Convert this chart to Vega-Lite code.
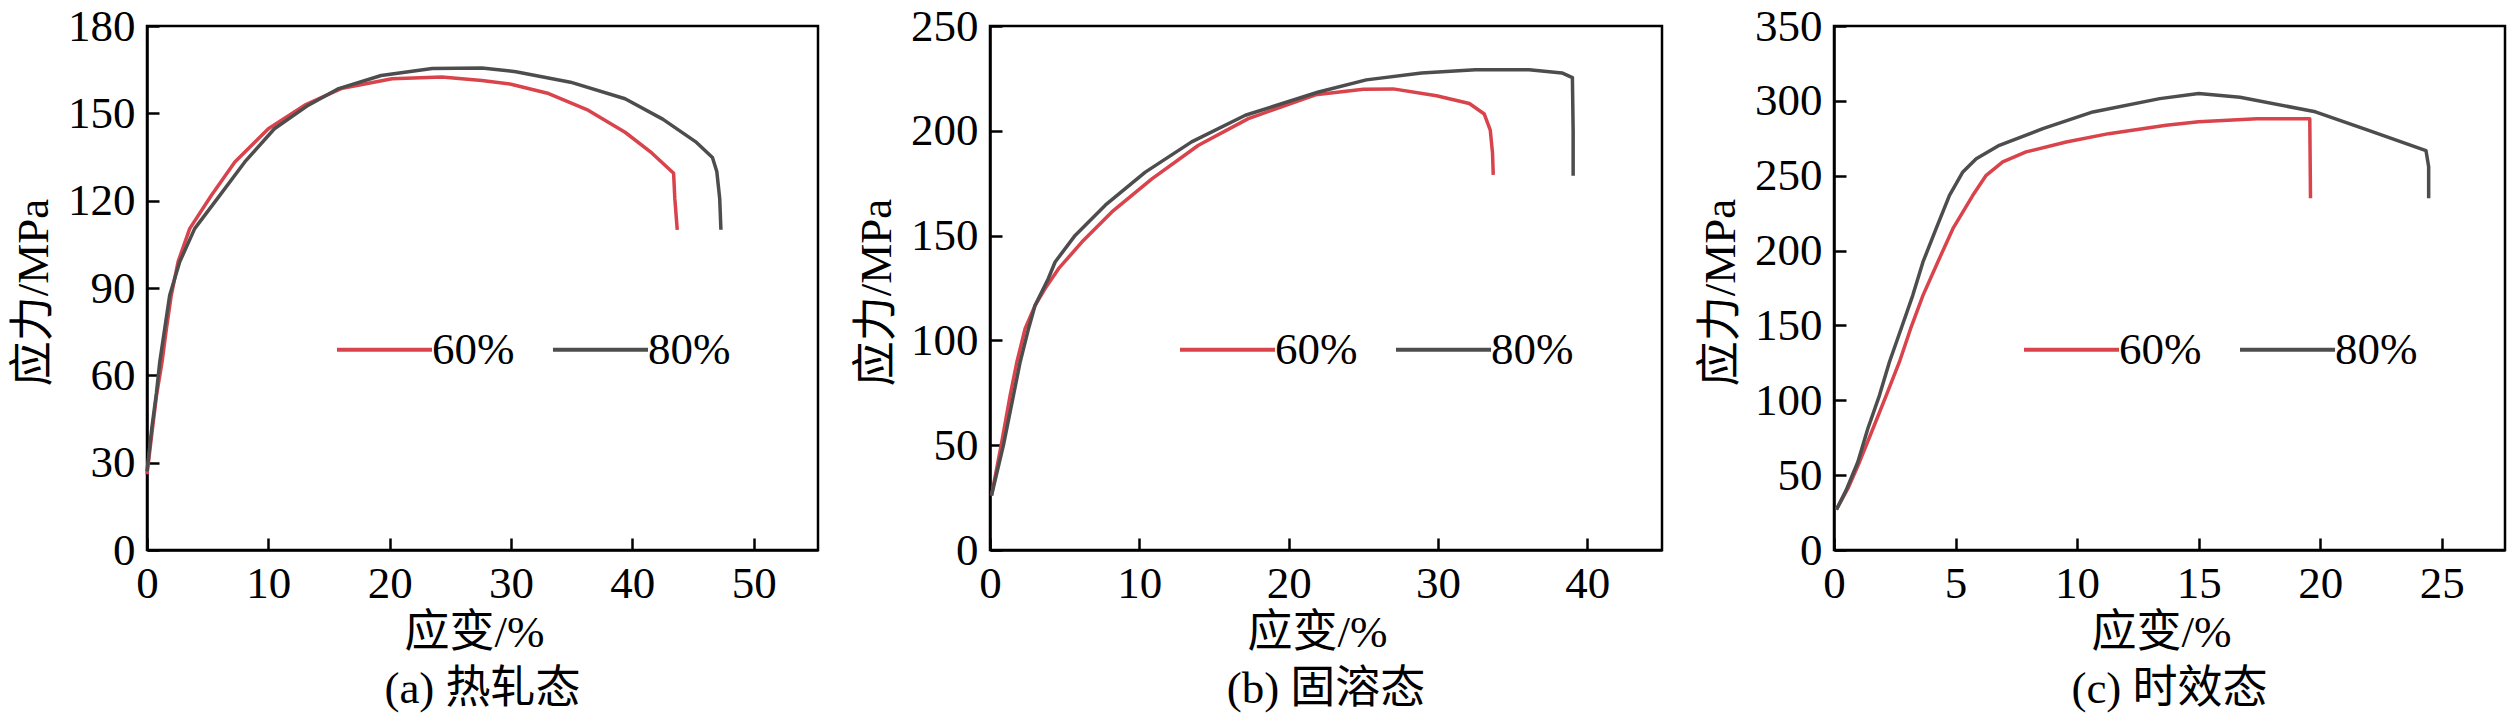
{
  "$schema": "https://vega.github.io/schema/vega-lite/v6.json",
  "padding": {"left": 9, "top": 2, "right": 0, "bottom": 0},
  "background": "white",
  "spacing": 32,
  "datasets": {
    "a": [
      {"s": "60%", "i": 1, "x": 0, "y": 26},
      {"s": "60%", "i": 2, "x": 0.4, "y": 40},
      {"s": "60%", "i": 3, "x": 0.78, "y": 53},
      {"s": "60%", "i": 4, "x": 1.24, "y": 64.6},
      {"s": "60%", "i": 5, "x": 1.6, "y": 76},
      {"s": "60%", "i": 6, "x": 2.0, "y": 87.5},
      {"s": "60%", "i": 7, "x": 2.56, "y": 99},
      {"s": "60%", "i": 8, "x": 3.52, "y": 110.4},
      {"s": "60%", "i": 9, "x": 5.3, "y": 121.8},
      {"s": "60%", "i": 10, "x": 7.24, "y": 133.3},
      {"s": "60%", "i": 11, "x": 10, "y": 144.7},
      {"s": "60%", "i": 12, "x": 13, "y": 152.8},
      {"s": "60%", "i": 13, "x": 16, "y": 158.5},
      {"s": "60%", "i": 14, "x": 20.2, "y": 161.9},
      {"s": "60%", "i": 15, "x": 24.3, "y": 162.5},
      {"s": "60%", "i": 16, "x": 27.6, "y": 161.3},
      {"s": "60%", "i": 17, "x": 30, "y": 160},
      {"s": "60%", "i": 18, "x": 33.1, "y": 156.8},
      {"s": "60%", "i": 19, "x": 36.25, "y": 151.3},
      {"s": "60%", "i": 20, "x": 39.4, "y": 143.5},
      {"s": "60%", "i": 21, "x": 41.6, "y": 136.4},
      {"s": "60%", "i": 22, "x": 43.4, "y": 129.4},
      {"s": "60%", "i": 23, "x": 43.5, "y": 120.7},
      {"s": "60%", "i": 24, "x": 43.7, "y": 110},
      {"s": "80%", "i": 1, "x": 0, "y": 27},
      {"s": "80%", "i": 2, "x": 0.4, "y": 42},
      {"s": "80%", "i": 3, "x": 0.78, "y": 54},
      {"s": "80%", "i": 4, "x": 1.05, "y": 64.6},
      {"s": "80%", "i": 5, "x": 1.87, "y": 87.5},
      {"s": "80%", "i": 6, "x": 2.7, "y": 99},
      {"s": "80%", "i": 7, "x": 3.93, "y": 110.4},
      {"s": "80%", "i": 8, "x": 6.0, "y": 121.8},
      {"s": "80%", "i": 9, "x": 8.06, "y": 133.3},
      {"s": "80%", "i": 10, "x": 10.5, "y": 144.7},
      {"s": "80%", "i": 11, "x": 13.3, "y": 152.8},
      {"s": "80%", "i": 12, "x": 15.8, "y": 158.5},
      {"s": "80%", "i": 13, "x": 19.3, "y": 163},
      {"s": "80%", "i": 14, "x": 23.5, "y": 165.4},
      {"s": "80%", "i": 15, "x": 27.6, "y": 165.6},
      {"s": "80%", "i": 16, "x": 30.4, "y": 164.3},
      {"s": "80%", "i": 17, "x": 34.9, "y": 160.7},
      {"s": "80%", "i": 18, "x": 39.4, "y": 155},
      {"s": "80%", "i": 19, "x": 42.5, "y": 148},
      {"s": "80%", "i": 20, "x": 45.2, "y": 140.3},
      {"s": "80%", "i": 21, "x": 46.6, "y": 134.8},
      {"s": "80%", "i": 22, "x": 46.96, "y": 130},
      {"s": "80%", "i": 23, "x": 47.2, "y": 120.7},
      {"s": "80%", "i": 24, "x": 47.3, "y": 110}
    ],
    "b": [
      {"s": "60%", "i": 1, "x": 0.1, "y": 26},
      {"s": "60%", "i": 2, "x": 0.75, "y": 50},
      {"s": "60%", "i": 3, "x": 1.35, "y": 73.8},
      {"s": "60%", "i": 4, "x": 1.8, "y": 89.7},
      {"s": "60%", "i": 5, "x": 2.35, "y": 105.6},
      {"s": "60%", "i": 6, "x": 3.02, "y": 116.7},
      {"s": "60%", "i": 7, "x": 3.69, "y": 124.7},
      {"s": "60%", "i": 8, "x": 4.59, "y": 134.2},
      {"s": "60%", "i": 9, "x": 6.15, "y": 146.9},
      {"s": "60%", "i": 10, "x": 8.16, "y": 161.3},
      {"s": "60%", "i": 11, "x": 10.84, "y": 177.1},
      {"s": "60%", "i": 12, "x": 13.96, "y": 193.1},
      {"s": "60%", "i": 13, "x": 17.3, "y": 205.8},
      {"s": "60%", "i": 14, "x": 21.8, "y": 217.2},
      {"s": "60%", "i": 15, "x": 25, "y": 219.8},
      {"s": "60%", "i": 16, "x": 27, "y": 220},
      {"s": "60%", "i": 17, "x": 29.9, "y": 216.7},
      {"s": "60%", "i": 18, "x": 32.1, "y": 213},
      {"s": "60%", "i": 19, "x": 33.1, "y": 208},
      {"s": "60%", "i": 20, "x": 33.5, "y": 200.3},
      {"s": "60%", "i": 21, "x": 33.65, "y": 189.5},
      {"s": "60%", "i": 22, "x": 33.7, "y": 179},
      {"s": "80%", "i": 1, "x": 0.1, "y": 26},
      {"s": "80%", "i": 2, "x": 0.9, "y": 50},
      {"s": "80%", "i": 3, "x": 1.57, "y": 73.8},
      {"s": "80%", "i": 4, "x": 2.02, "y": 89.7},
      {"s": "80%", "i": 5, "x": 2.58, "y": 105.6},
      {"s": "80%", "i": 6, "x": 3.02, "y": 116.7},
      {"s": "80%", "i": 7, "x": 3.9, "y": 129.4},
      {"s": "80%", "i": 8, "x": 4.36, "y": 137.4},
      {"s": "80%", "i": 9, "x": 5.7, "y": 150.1},
      {"s": "80%", "i": 10, "x": 7.72, "y": 164.5},
      {"s": "80%", "i": 11, "x": 10.4, "y": 180.3},
      {"s": "80%", "i": 12, "x": 13.5, "y": 194.7},
      {"s": "80%", "i": 13, "x": 17.1, "y": 207.4},
      {"s": "80%", "i": 14, "x": 22, "y": 218.5},
      {"s": "80%", "i": 15, "x": 25.2, "y": 224.3},
      {"s": "80%", "i": 16, "x": 28.9, "y": 227.6},
      {"s": "80%", "i": 17, "x": 32.5, "y": 229.1},
      {"s": "80%", "i": 18, "x": 36.1, "y": 229.1},
      {"s": "80%", "i": 19, "x": 38.3, "y": 227.6},
      {"s": "80%", "i": 20, "x": 39.0, "y": 225.4},
      {"s": "80%", "i": 21, "x": 39.05, "y": 200},
      {"s": "80%", "i": 22, "x": 39.05, "y": 178.6}
    ],
    "c": [
      {"s": "60%", "i": 1, "x": 0.1, "y": 27},
      {"s": "60%", "i": 2, "x": 0.6, "y": 42},
      {"s": "60%", "i": 3, "x": 1.05, "y": 58.8},
      {"s": "60%", "i": 4, "x": 1.6, "y": 81},
      {"s": "60%", "i": 5, "x": 2.15, "y": 103.3},
      {"s": "60%", "i": 6, "x": 2.69, "y": 125.6},
      {"s": "60%", "i": 7, "x": 3.15, "y": 147.8},
      {"s": "60%", "i": 8, "x": 3.66, "y": 170.1},
      {"s": "60%", "i": 9, "x": 4.27, "y": 192.4},
      {"s": "60%", "i": 10, "x": 4.89, "y": 214.6},
      {"s": "60%", "i": 11, "x": 5.71, "y": 236.9},
      {"s": "60%", "i": 12, "x": 6.26, "y": 250.3},
      {"s": "60%", "i": 13, "x": 6.94, "y": 259.2},
      {"s": "60%", "i": 14, "x": 7.9, "y": 265.9},
      {"s": "60%", "i": 15, "x": 9.55, "y": 272.5},
      {"s": "60%", "i": 16, "x": 11.3, "y": 278.1},
      {"s": "60%", "i": 17, "x": 13.66, "y": 283.7},
      {"s": "60%", "i": 18, "x": 15, "y": 286},
      {"s": "60%", "i": 19, "x": 17.4, "y": 288.1},
      {"s": "60%", "i": 20, "x": 19.57, "y": 288.1},
      {"s": "60%", "i": 21, "x": 19.6, "y": 235},
      {"s": "80%", "i": 1, "x": 0.1, "y": 27},
      {"s": "80%", "i": 2, "x": 0.5, "y": 40},
      {"s": "80%", "i": 3, "x": 0.98, "y": 58.8},
      {"s": "80%", "i": 4, "x": 1.39, "y": 81},
      {"s": "80%", "i": 5, "x": 1.87, "y": 103.3},
      {"s": "80%", "i": 6, "x": 2.28, "y": 125.6},
      {"s": "80%", "i": 7, "x": 2.76, "y": 147.8},
      {"s": "80%", "i": 8, "x": 3.24, "y": 170.1},
      {"s": "80%", "i": 9, "x": 3.66, "y": 192.4},
      {"s": "80%", "i": 10, "x": 4.2, "y": 214.6},
      {"s": "80%", "i": 11, "x": 4.75, "y": 236.9},
      {"s": "80%", "i": 12, "x": 5.3, "y": 252.5},
      {"s": "80%", "i": 13, "x": 5.85, "y": 261.4},
      {"s": "80%", "i": 14, "x": 6.8, "y": 270.3},
      {"s": "80%", "i": 15, "x": 8.59, "y": 281.4},
      {"s": "80%", "i": 16, "x": 10.65, "y": 292.6},
      {"s": "80%", "i": 17, "x": 13.4, "y": 301.5},
      {"s": "80%", "i": 18, "x": 15, "y": 304.9},
      {"s": "80%", "i": 19, "x": 16.7, "y": 302.4},
      {"s": "80%", "i": 20, "x": 19.8, "y": 292.7},
      {"s": "80%", "i": 21, "x": 21.96, "y": 280.5},
      {"s": "80%", "i": 22, "x": 24.35, "y": 266.8},
      {"s": "80%", "i": 23, "x": 24.46, "y": 256},
      {"s": "80%", "i": 24, "x": 24.46, "y": 235}
    ]
  },
  "resolve": {"scale": {"color": "independent"}, "legend": {"color": "independent"}},
  "hconcat": [
    {
      "width": 671,
      "height": 524,
      "data": {"name": "a"},
      "title": {"text": "(a) 热轧态", "orient": "bottom", "offset": 12},
      "mark": {"type": "line", "strokeWidth": 3.5, "strokeJoin": "round"},
      "encoding": {
        "x": {"field": "x", "type": "quantitative", "scale": {"domain": [0, 55.3], "nice": false},
              "axis": {"values": [0, 10, 20, 30, 40, 50], "title": "应变/%", "titleX": 327, "titleY": 82}},
        "y": {"field": "y", "type": "quantitative", "scale": {"domain": [0, 180], "nice": false},
              "axis": {"values": [0, 30, 60, 90, 120, 150, 180], "title": "应力/MPa", "titleX": -114, "titleY": 266}},
        "color": {"field": "s", "type": "nominal", "scale": {"domain": ["60%", "80%"], "range": ["#d9434b", "#4d4d4d"]}},
        "order": {"field": "i", "type": "quantitative"}
      }
    },
    {
      "width": 672,
      "height": 524,
      "data": {"name": "b"},
      "title": {"text": "(b) 固溶态", "orient": "bottom", "offset": 12},
      "mark": {"type": "line", "strokeWidth": 3.5, "strokeJoin": "round"},
      "encoding": {
        "x": {"field": "x", "type": "quantitative", "scale": {"domain": [0, 45], "nice": false},
              "axis": {"values": [0, 10, 20, 30, 40], "title": "应变/%", "titleX": 327, "titleY": 82}},
        "y": {"field": "y", "type": "quantitative", "scale": {"domain": [0, 250], "nice": false},
              "axis": {"values": [0, 50, 100, 150, 200, 250], "title": "应力/MPa", "titleX": -114, "titleY": 266}},
        "color": {"field": "s", "type": "nominal", "scale": {"domain": ["60%", "80%"], "range": ["#d9434b", "#4d4d4d"]}},
        "order": {"field": "i", "type": "quantitative"}
      }
    },
    {
      "width": 671,
      "height": 524,
      "data": {"name": "c"},
      "title": {"text": "(c) 时效态", "orient": "bottom", "offset": 12},
      "mark": {"type": "line", "strokeWidth": 3.5, "strokeJoin": "round"},
      "encoding": {
        "x": {"field": "x", "type": "quantitative", "scale": {"domain": [0, 27.6], "nice": false},
              "axis": {"values": [0, 5, 10, 15, 20, 25], "title": "应变/%", "titleX": 327, "titleY": 82}},
        "y": {"field": "y", "type": "quantitative", "scale": {"domain": [0, 350], "nice": false},
              "axis": {"values": [0, 50, 100, 150, 200, 250, 300, 350], "title": "应力/MPa", "titleX": -114, "titleY": 266}},
        "color": {"field": "s", "type": "nominal", "scale": {"domain": ["60%", "80%"], "range": ["#d9434b", "#4d4d4d"]}},
        "order": {"field": "i", "type": "quantitative"}
      }
    }
  ],
  "config": {
    "font": "Liberation Serif, Noto Sans CJK SC",
    "view": {"stroke": "black", "strokeWidth": 2.5},
    "axis": {
      "grid": false,
      "domainColor": "black",
      "domainWidth": 2.5,
      "tickColor": "black",
      "tickWidth": 2.5,
      "tickSize": -12,
      "labelFont": "Liberation Serif",
      "labelFontSize": 45,
      "labelColor": "black",
      "labelFlush": false,
      "labelOverlap": false,
      "titleFont": "Liberation Serif, Noto Sans CJK SC",
      "titleFontSize": 45,
      "titleFontWeight": "normal",
      "titleColor": "black",
      "titleAlign": "center",
      "titleBaseline": "middle"
    },
    "axisX": {"labelPadding": 23},
    "axisY": {"labelPadding": 24},
    "legend": {
      "orient": "none",
      "legendX": 188,
      "legendY": 274,
      "direction": "horizontal",
      "title": null,
      "padding": 0,
      "labelFont": "Liberation Serif",
      "labelFontSize": 45,
      "labelColor": "black",
      "symbolType": "stroke",
      "symbolSize": 9025,
      "symbolStrokeWidth": 4,
      "labelOffset": -2,
      "columnPadding": 30
    },
    "title": {
      "font": "Liberation Serif, Noto Sans CJK SC",
      "fontSize": 45,
      "fontWeight": "normal",
      "color": "black"
    }
  }
}
